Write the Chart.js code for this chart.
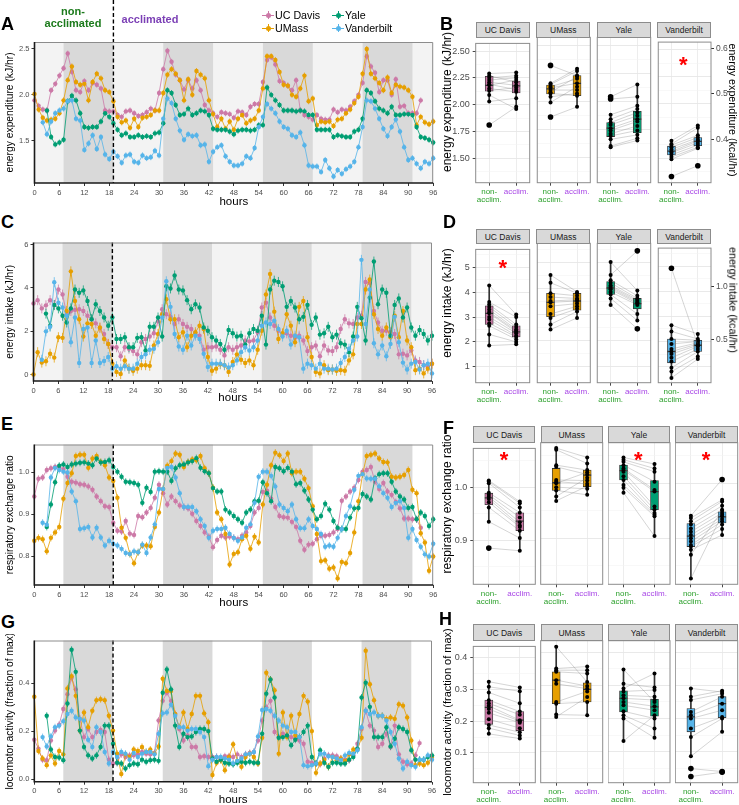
<!DOCTYPE html>
<html><head><meta charset="utf-8">
<script src="https://cdn.jsdelivr.net/npm/chart.js@4.4.1/dist/chart.umd.min.js"></script>
<style>
html,body{margin:0;padding:0;background:#fff;}
#root{position:relative;width:739px;height:805px;overflow:hidden;font-family:"Liberation Sans",Arial,Helvetica,sans-serif;}
canvas{position:absolute;}
.lbl{position:absolute;white-space:nowrap;line-height:1;}
.letter{font-weight:bold;font-size:18px;color:#000;}
.strip{position:absolute;background:#d9d9d9;border:1px solid #8c8c8c;box-sizing:border-box;font-size:8.5px;color:#1a1a1a;display:flex;align-items:center;justify-content:center;}
.star{position:absolute;color:#ff0000;font-weight:bold;font-size:22px;line-height:1;transform:translateX(-50%);}
.vtitle{position:absolute;white-space:nowrap;line-height:1;color:#000;}
</style></head><body><div id="root"></div>
<script>
// ---------- shared axis / design constants ----------
const hourTicks = [0,6,12,18,24,30,36,42,48,54,60,66,72,78,84,90,96];
const darkStarts = [7,31,55,79];
const darkLength = 12;
const acclimStartHour = 19;
const siteNames = ['UC Davis','UMass','Yale','Vanderbilt'];
const siteColors = ['#CC79A7','#E69F00','#009E73','#56B4E9'];
const siteStartHours = [0,0,3,2];
const conditionLabels = ['non-acclim.','acclim.'];
const kJperKcal = 4.184;

// ---------- A: energy expenditure (kJ/hr) ----------
const eeUCD = [1.94,1.88,1.84,1.83,2.05,2.12,2.21,2.29,2.45,2.25,2.05,2.03,2.15,2.05,2.13,2.11,2.07,1.83,1.82,1.82,1.78,1.76,1.82,1.83,1.80,1.77,1.78,1.81,1.85,1.83,2.02,2.28,2.48,2.36,2.22,2.16,2.06,2.16,2.07,2.16,2.05,1.89,1.83,1.80,1.76,1.81,1.80,1.79,1.75,1.82,1.81,1.78,1.87,1.90,1.90,2.14,2.38,2.41,2.33,2.15,2.13,2.10,2.05,2.16,1.83,1.78,1.76,1.73,1.78,1.74,1.73,1.73,1.84,1.81,1.84,1.83,1.87,1.93,2.00,2.13,2.42,2.31,2.24,2.03,2.16,2.16,2.00,2.17,1.87,1.88,1.80,1.80,1.80,1.94];
const eeUMass = [2.01,1.84,1.75,1.72,1.73,1.74,1.80,1.94,2.16,2.31,2.14,2.11,2.12,1.94,2.14,2.23,2.18,2.05,2.03,1.93,1.76,1.70,1.72,1.64,1.74,1.65,1.75,1.76,1.78,1.83,1.83,2.02,2.22,2.28,2.23,2.16,1.94,2.17,2.00,2.26,2.22,2.18,1.94,1.79,1.65,1.74,1.63,1.71,1.62,1.74,1.78,1.69,1.72,1.74,1.83,2.07,2.42,2.42,2.38,2.25,2.11,2.10,2.00,1.98,2.07,2.21,1.93,1.96,1.67,1.71,1.70,1.71,1.66,1.73,1.74,1.80,1.84,1.91,1.98,2.23,2.50,2.23,2.18,2.13,2.05,2.19,2.02,2.11,2.09,2.08,2.05,1.98,1.67,1.76,1.70,1.68,1.71];
const eeYale = [1.83,1.54,1.46,1.48,1.51,1.93,1.99,1.94,1.80,1.65,1.64,1.65,1.65,1.71,1.80,1.76,1.69,1.62,1.56,1.58,1.54,1.54,1.56,1.54,1.55,1.54,1.58,1.59,1.69,2.05,2.02,1.89,1.78,1.79,1.85,1.78,1.80,1.83,1.82,1.78,1.63,1.62,1.62,1.62,1.60,1.57,1.61,1.62,1.62,1.61,1.62,1.67,1.67,2.08,2.00,1.94,1.89,1.83,1.83,1.83,1.82,1.83,1.82,1.78,1.78,1.62,1.62,1.62,1.62,1.54,1.56,1.55,1.54,1.54,1.60,1.62,1.74,2.05,2.02,1.93,1.85,1.83,1.80,1.87,1.78,1.78,1.79,1.79,1.78,1.65,1.54,1.53,1.51,1.48];
const eeVandy = [1.70,1.57,1.71,1.80,1.83,1.85,1.93,1.94,1.74,1.72,1.40,1.47,1.56,1.41,1.54,1.35,1.30,1.38,1.33,1.26,1.34,1.35,1.27,1.26,1.34,1.31,1.32,1.39,1.34,1.74,1.96,1.91,1.74,1.61,1.51,1.57,1.55,1.56,1.45,1.46,1.27,1.38,1.43,1.45,1.33,1.27,1.23,1.23,1.25,1.33,1.31,1.42,1.65,1.76,1.90,1.85,1.80,1.71,1.65,1.63,1.56,1.54,1.59,1.45,1.23,1.22,1.22,1.16,1.29,1.20,1.11,1.18,1.14,1.19,1.22,1.27,1.43,1.65,1.94,1.93,1.85,1.74,1.63,1.55,1.65,1.73,1.60,1.43,1.29,1.31,1.25,1.20,1.27,1.25,1.31];

// ---------- C: energy intake (kJ/hr) ----------
const eiUCD = [3.28,3.43,3.05,3.19,3.43,3.20,3.92,3.69,2.78,2.93,2.98,3.01,2.93,2.71,2.55,2.36,2.14,1.87,1.41,1.26,1.26,0.84,1.26,1.19,1.08,0.93,1.49,1.64,1.75,1.90,2.45,3.01,2.78,2.66,2.33,2.55,2.33,2.20,2.10,1.87,1.79,1.14,1.26,1.26,1.29,1.14,0.88,1.26,1.14,1.26,1.34,1.57,1.53,1.57,1.95,3.09,3.31,2.63,2.25,2.02,1.87,1.90,1.79,1.69,1.79,1.57,1.08,1.26,1.34,0.84,1.34,1.11,1.08,1.26,2.10,2.55,2.36,2.33,2.63,2.71,4.27,4.22,2.93,2.40,2.02,2.02,1.95,1.87,0.93,0.96,0.88,1.11,0.65,0.58,0.43,0.35,0.50];
const eiUMass = [0.00,1.03,0.55,0.61,0.96,0.78,1.72,1.69,2.93,4.76,3.39,2.55,1.75,2.36,2.33,1.79,2.17,1.64,1.41,0.50,0.12,0.02,0.65,0.27,0.17,0.27,0.43,0.43,0.40,1.34,1.87,2.78,3.47,2.55,2.55,1.72,1.95,1.26,1.79,1.95,2.25,2.10,0.81,0.17,0.27,0.47,0.43,0.12,0.58,0.93,0.68,0.53,0.65,0.43,1.14,2.02,3.69,4.64,2.90,1.64,1.90,2.78,2.25,1.49,3.12,3.39,1.72,0.81,0.12,0.05,0.43,0.20,0.23,0.17,0.20,0.17,0.65,0.93,2.33,2.33,3.92,4.38,2.78,2.10,1.79,2.17,1.72,2.71,1.72,2.93,1.57,1.26,0.20,0.27,0.05,0.27,0.50];
const eiYale = [2.81,2.25,3.21,3.05,2.71,2.40,3.05,3.92,3.77,3.88,3.39,2.55,3.24,2.93,2.63,2.25,2.63,1.64,1.64,1.72,1.26,1.26,1.69,1.72,1.11,2.20,2.20,2.63,1.75,4.07,3.97,4.57,3.92,3.88,3.43,3.01,3.24,3.09,2.17,2.02,1.72,1.57,1.41,1.14,2.05,1.90,1.75,1.79,1.38,1.90,2.10,2.02,2.71,1.38,3.92,4.33,4.27,4.07,3.12,3.39,3.09,2.55,2.66,3.21,2.29,2.63,1.84,1.90,2.20,1.72,1.84,1.44,1.38,1.03,1.75,3.12,2.60,1.57,3.54,5.21,3.24,3.92,3.77,1.79,3.21,3.51,2.63,3.09,2.17,1.79,2.05,1.87,1.57,1.79];
const eiVandy = [0.68,1.99,2.20,4.26,3.31,3.09,2.71,1.49,2.63,0.53,2.10,2.17,0.53,1.57,0.53,0.62,0.81,0.27,0.38,0.27,0.38,0.27,0.27,0.50,0.81,0.93,1.14,1.19,1.49,2.63,4.30,3.12,1.87,1.29,1.14,1.79,1.34,1.79,1.64,0.96,0.35,0.50,0.50,0.50,0.43,0.32,0.43,0.65,1.03,1.26,1.11,1.26,1.57,2.25,2.40,2.33,2.48,2.10,1.75,2.02,1.38,1.79,1.72,0.27,0.50,0.43,0.27,0.50,0.27,0.27,0.23,0.27,0.53,0.81,1.19,1.57,1.75,5.29,2.33,3.92,1.44,0.93,1.34,0.84,1.41,2.66,1.49,0.55,0.23,0.50,0.58,0.23,0.43,0.50,0.05];

// ---------- E: respiratory exchange ratio ----------
const rerUCD = [0.942,0.984,0.987,1.005,1.009,1.012,1.012,1.007,0.989,0.977,0.975,0.971,0.970,0.966,0.958,0.942,0.931,0.919,0.917,0.880,0.861,0.859,0.884,0.854,0.851,0.896,0.893,0.904,0.915,0.939,0.970,0.950,0.923,0.942,0.931,0.921,0.917,0.914,0.901,0.884,0.872,0.857,0.847,0.822,0.839,0.849,0.845,0.847,0.844,0.841,0.849,0.857,0.872,0.904,0.915,0.953,0.956,0.937,0.917,0.896,0.893,0.892,0.882,0.870,0.837,0.816,0.828,0.830,0.841,0.849,0.849,0.851,0.857,0.865,0.932,0.942,0.954,0.963,0.981,1.001,1.005,1.012,0.977,0.960,0.974,0.954,0.946,0.929,0.914,0.890,0.890,0.888,0.888,0.868];
const rerUMass = [0.837,0.844,0.841,0.812,0.844,0.857,0.870,0.937,0.974,0.997,1.038,1.041,1.041,1.010,1.032,1.038,1.024,1.016,0.987,0.979,0.939,0.868,0.844,0.806,0.784,0.810,0.826,0.826,0.824,0.870,0.904,0.960,1.015,1.026,1.044,1.041,1.012,1.024,1.030,1.028,1.038,1.009,0.997,0.963,0.904,0.888,0.853,0.781,0.806,0.810,0.841,0.849,0.818,0.847,0.833,0.923,0.970,1.016,1.046,1.040,1.026,1.044,0.997,1.001,1.001,0.984,0.962,0.919,0.853,0.789,0.791,0.771,0.774,0.748,0.787,0.784,0.808,0.857,0.931,0.995,1.038,1.041,1.044,1.032,1.024,1.023,0.989,0.987,0.989,0.993,1.005,0.958,0.950,0.855,0.833,0.766,0.800];
const rerYale = [0.870,0.923,0.976,1.015,1.018,1.012,1.018,1.020,1.022,1.023,1.020,1.016,1.032,1.023,1.024,1.028,1.012,1.001,0.989,0.977,0.976,0.974,0.970,0.927,0.963,0.953,1.001,1.002,1.001,1.001,0.979,1.009,1.016,1.018,1.023,1.026,1.033,1.010,1.002,0.997,0.962,0.954,0.954,0.911,0.904,0.896,0.888,0.880,0.904,0.911,0.931,0.932,0.976,0.950,0.931,1.012,1.009,1.002,1.010,1.001,0.971,0.974,0.956,0.935,0.911,0.888,0.896,0.925,0.911,0.884,0.868,0.865,0.865,0.892,0.914,0.915,0.948,0.942,0.935,0.985,0.995,0.997,0.997,0.977,0.954,0.942,0.935,0.915,0.917,0.888,0.904,0.896,0.872,0.888];
const rerVandy = [0.880,0.875,0.987,1.010,1.005,1.001,0.999,0.954,0.931,0.865,0.867,0.870,0.845,0.868,0.845,0.826,0.837,0.830,0.826,0.818,0.808,0.806,0.812,0.810,0.828,0.808,0.845,0.876,0.960,0.960,1.010,1.012,0.987,0.950,0.917,0.917,0.917,0.907,0.888,0.872,0.844,0.861,0.865,0.865,0.868,0.853,0.844,0.837,0.845,0.868,0.876,0.927,0.989,1.001,1.001,0.991,0.966,0.923,0.915,0.907,0.923,0.888,0.867,0.867,0.888,0.872,0.865,0.853,0.823,0.826,0.823,0.844,0.865,0.896,0.919,0.958,0.991,0.995,0.985,0.984,0.984,0.966,0.950,0.939,0.917,0.927,0.931,0.915,0.844,0.865,0.839,0.823,0.805,0.800,0.830];

// ---------- G: locomotor activity (fraction of max) ----------
const locUCD = [0.165,0.128,0.082,0.080,0.162,0.203,0.228,0.293,0.355,0.423,0.375,0.252,0.176,0.210,0.176,0.197,0.206,0.197,0.082,0.066,0.069,0.104,0.093,0.100,0.100,0.104,0.114,0.107,0.104,0.110,0.245,0.327,0.361,0.327,0.272,0.210,0.162,0.183,0.135,0.135,0.093,0.096,0.093,0.093,0.093,0.082,0.096,0.096,0.093,0.104,0.093,0.104,0.110,0.114,0.162,0.245,0.300,0.327,0.197,0.176,0.190,0.183,0.176,0.169,0.162,0.148,0.073,0.069,0.066,0.063,0.087,0.100,0.100,0.096,0.087,0.082,0.080,0.100,0.148,0.210,0.286,0.224,0.203,0.135,0.148,0.190,0.135,0.224,0.104,0.073,0.063,0.066,0.100,0.151];
const locUMass = [0.344,0.118,0.087,0.059,0.100,0.066,0.118,0.104,0.379,0.430,0.348,0.203,0.279,0.217,0.286,0.330,0.334,0.330,0.265,0.203,0.107,0.022,0.104,0.093,0.124,0.118,0.135,0.114,0.124,0.107,0.137,0.419,0.368,0.368,0.272,0.217,0.279,0.210,0.272,0.348,0.348,0.275,0.238,0.018,0.069,0.080,0.038,0.093,0.146,0.077,0.052,0.093,0.107,0.093,0.066,0.173,0.444,0.416,0.371,0.107,0.279,0.176,0.265,0.183,0.272,0.348,0.324,0.201,0.027,0.066,0.082,0.052,0.093,0.080,0.087,0.077,0.104,0.124,0.124,0.173,0.536,0.396,0.330,0.265,0.265,0.252,0.258,0.252,0.313,0.307,0.258,0.162,0.059,0.066,0.059,0.069,0.093];
const locYale = [0.265,0.124,0.093,0.091,0.080,0.316,0.540,0.448,0.203,0.135,0.100,0.087,0.100,0.135,0.224,0.224,0.148,0.069,0.066,0.045,0.059,0.066,0.063,0.082,0.073,0.080,0.082,0.077,0.361,0.458,0.375,0.224,0.135,0.190,0.176,0.179,0.197,0.210,0.210,0.201,0.087,0.073,0.082,0.069,0.066,0.063,0.069,0.073,0.069,0.073,0.069,0.069,0.190,0.357,0.416,0.341,0.173,0.176,0.183,0.142,0.165,0.176,0.197,0.224,0.093,0.066,0.121,0.069,0.052,0.069,0.069,0.066,0.066,0.082,0.093,0.128,0.341,0.403,0.302,0.176,0.176,0.176,0.217,0.137,0.169,0.217,0.210,0.197,0.121,0.082,0.082,0.082,0.093,0.100];
const locVandy = [0.176,0.137,0.179,0.217,0.224,0.242,0.272,0.286,0.258,0.252,0.245,0.165,0.135,0.217,0.197,0.114,0.066,0.114,0.093,0.114,0.107,0.082,0.110,0.093,0.107,0.114,0.114,0.104,0.190,0.275,0.279,0.311,0.265,0.217,0.217,0.203,0.210,0.210,0.197,0.176,0.055,0.082,0.093,0.093,0.087,0.082,0.066,0.077,0.087,0.104,0.107,0.114,0.179,0.289,0.293,0.286,0.265,0.245,0.224,0.217,0.197,0.197,0.176,0.059,0.055,0.059,0.066,0.107,0.107,0.096,0.093,0.087,0.080,0.100,0.110,0.107,0.121,0.217,0.286,0.272,0.279,0.265,0.265,0.245,0.197,0.148,0.087,0.045,0.073,0.059,0.052,0.082,0.082,0.100,0.082];

// ---------- B: per-animal means, energy expenditure (kJ/hr); box = [whiskerLo, q1, median, q3, whiskerHi] ----------
const B_UCD_non = [2.29,2.27,2.25,2.23,2.21,2.19,2.18,2.15,2.13,2.09,2.03,1.81];
const B_UCD_acc = [2.30,2.21,2.27,2.25,2.18,2.14,2.23,2.12,2.16,1.96,2.06,1.98];
const B_UCD_box = [[2.03,2.125,2.18,2.265,2.29],[1.96,2.11,2.175,2.22,2.30]];
const B_UMass_non = [2.32,2.16,2.15,2.13,2.12,2.10,2.08,2.07,2.04,1.99,1.86];
const B_UMass_acc = [2.23,2.29,2.27,2.20,2.16,2.10,2.22,2.05,2.07,2.13,1.95];
const B_UMass_box = [[1.99,2.065,2.11,2.145,2.16],[1.95,2.05,2.16,2.23,2.29]];
const B_Yale_non = [2.04,2.02,1.88,1.84,1.81,1.79,1.76,1.74,1.71,1.69,1.66,1.60,1.59];
const B_Yale_acc = [2.15,2.04,1.96,1.93,1.90,1.87,1.84,1.82,1.78,1.74,1.70,1.67,1.65];
const B_Yale_box = [[1.59,1.685,1.76,1.81,1.88],[1.65,1.72,1.84,1.91,2.15]];
const B_Vandy_non = [1.66,1.63,1.62,1.60,1.58,1.56,1.55,1.53,1.51,1.49,1.33];
const B_Vandy_acc = [1.80,1.78,1.71,1.69,1.67,1.66,1.64,1.62,1.60,1.59,1.43];
const B_Vandy_box = [[1.49,1.53,1.565,1.61,1.66],[1.59,1.615,1.655,1.69,1.80]];

// ---------- D: energy intake (kJ/hr) ----------
const D_UCD_non = [4.27,3.6,3.5,3.4,3.3,3.2,3.15,3.0,2.9,2.75,2.65,2.3,1.85];
const D_UCD_acc = [3.1,3.0,2.7,2.6,2.5,2.45,2.4,2.35,2.25,2.2,2.1,2.0,1.9];
const D_UCD_box = [[1.85,2.7,3.15,3.45,4.27],[1.9,2.2,2.4,2.65,3.1]];
const D_UMass_non = [4.5,4.2,3.8,3.65,3.5,3.45,3.3,3.0,2.85,2.6,2.4];
const D_UMass_acc = [3.85,3.8,3.7,3.6,3.55,3.5,3.4,3.3,3.2,3.1,2.85];
const D_UMass_box = [[2.4,2.9,3.45,3.8,4.5],[2.85,3.15,3.5,3.8,3.85]];
const D_Yale_non = [5.0,4.5,4.3,4.2,4.1,4.05,4.0,3.95,3.85,3.75,3.6,3.35];
const D_Yale_acc = [3.9,5.43,3.7,3.6,3.55,3.5,3.45,3.4,3.35,3.0,2.75,2.43];
const D_Yale_box = [[3.35,3.75,4.0,4.25,5.0],[2.75,3.2,3.4,3.6,3.9]];
const D_Vandy_non = [4.92,2.65,2.4,2.1,1.9,1.7,1.6,1.5,1.35,1.2,0.95,0.8,0.55];
const D_Vandy_acc = [1.85,2.3,2.1,2.05,2.0,1.95,1.9,1.85,1.8,1.7,1.6,1.4,1.3];
const D_Vandy_box = [[0.55,1.15,1.6,2.1,2.65],[1.3,1.6,1.85,2.05,2.3]];

// ---------- F: respiratory exchange ratio ----------
const F_UCD_non = [1.013,1.011,1.008,0.99,0.986,0.982,0.978,0.972,0.962,0.935,0.885];
const F_UCD_acc = [0.973,0.970,0.962,0.952,0.943,0.934,0.928,0.925,0.918,0.904,0.88];
const F_UCD_box = [[0.935,0.967,0.98,0.989,1.013],[0.88,0.918,0.936,0.952,0.973]];
const F_UMass_non = [1.064,1.061,1.033,1.03,1.006,1.003,1.0,0.993,0.987,0.976,0.968];
const F_UMass_acc = [1.047,1.036,1.024,1.016,1.005,0.999,1.02,0.99,0.979,1.01,0.995];
const F_UMass_box = [[0.968,0.987,1.001,1.027,1.064],[0.979,0.994,1.015,1.024,1.047]];
const F_Yale_non = [1.047,1.043,1.039,1.033,1.027,1.024,1.021,1.013,1.006,0.997,0.992,0.983];
const F_Yale_acc = [1.035,1.027,1.021,1.003,0.988,0.985,0.958,0.952,0.946,0.943,0.94,0.904];
const F_Yale_box = [[0.983,1.006,1.023,1.033,1.047],[0.904,0.952,0.985,1.005,1.035]];
const F_Vandy_non = [0.941,0.937,0.931,0.925,0.918,0.912,0.906,0.9,0.894,0.888,0.885,0.879,0.87,0.827];
const F_Vandy_acc = [1.007,0.97,0.967,0.959,0.952,0.946,0.94,0.935,0.931,0.925,0.917,0.906,0.95,0.943];
const F_Vandy_box = [[0.827,0.885,0.904,0.927,0.941],[0.906,0.928,0.939,0.948,0.97]];

// ---------- H: locomotor activity (fraction of max) ----------
const H_UCD_non = [0.324,0.308,0.29,0.266,0.256,0.248,0.238,0.226,0.206,0.188,0.178,0.16];
const H_UCD_acc = [0.306,0.294,0.256,0.23,0.22,0.203,0.2,0.195,0.178,0.165,0.155,0.145];
const H_UCD_box = [[0.16,0.19,0.243,0.266,0.324],[0.145,0.17,0.203,0.23,0.306]];
const H_UMass_non = [0.417,0.351,0.346,0.341,0.316,0.305,0.25,0.245,0.212,0.205];
const H_UMass_acc = [0.31,0.357,0.346,0.336,0.298,0.29,0.282,0.25,0.21,0.265];
const H_UMass_box = [[0.205,0.245,0.316,0.341,0.417],[0.21,0.25,0.288,0.308,0.357]];
const H_Yale_non = [0.348,0.305,0.291,0.282,0.27,0.261,0.25,0.24,0.222,0.21,0.2,0.132];
const H_Yale_acc = [0.25,0.294,0.336,0.286,0.266,0.256,0.237,0.225,0.2,0.17,0.142,0.21];
const H_Yale_box = [[0.132,0.22,0.261,0.284,0.348],[0.142,0.207,0.235,0.258,0.336]];
const H_Vandy_non = [0.291,0.266,0.256,0.22,0.21,0.2,0.17,0.144,0.086,0.049,0.025];
const H_Vandy_acc = [0.28,0.284,0.275,0.266,0.245,0.225,0.205,0.2,0.16,0.04,0.038];
const H_Vandy_box = [[0.086,0.16,0.205,0.23,0.291],[0.16,0.203,0.245,0.266,0.284]];

// ---------- helpers ----------
Chart.defaults.font.family = '"Liberation Sans", Arial, Helvetica, sans-serif';
const root = document.getElementById('root');
function rgba(hex,a){const n=parseInt(hex.slice(1),16);return 'rgba('+(n>>16)+','+((n>>8)&255)+','+(n&255)+','+a+')';}
function mkCanvas(x,y,w,h){
  const c=document.createElement('canvas');
  c.width=w; c.height=h;
  Object.assign(c.style,{left:x+'px',top:y+'px',width:w+'px',height:h+'px'});
  root.appendChild(c); return c;
}
function addDiv(cls, text, style){
  const d=document.createElement('div'); d.className=cls; d.textContent=text;
  Object.assign(d.style, style); root.appendChild(d); return d;
}
function vTitle(text,cx,cy,size,deg){
  addDiv('vtitle',text,{left:cx+'px',top:cy+'px',fontSize:size+'px',transform:'translate(-50%,-50%) rotate('+deg+'deg)'});
}

// ---------- time-series panels ----------
function tsChart(o){
  const cb=o.cb, a=o.area;
  const cv=mkCanvas(cb.x,cb.y,cb.w,cb.h);
  const yW=a.L-cb.x, xH=cb.y+cb.h-a.B, padTop=a.T-cb.y, padRight=cb.x+cb.w-a.R;
  const hoursSize=11.5, yTitleSize=10.3;
  const titlePB=(cb.y+cb.h)-o.hoursY-hoursSize*1.2/2;
  const datasets=o.series.map((arr,i)=>({
    label:siteNames[i],
    data:arr.map((v,k)=>({x:siteStartHours[i]+k,y:v})),
    borderColor:rgba(siteColors[i],0.8), borderWidth:1,
    pointBackgroundColor:siteColors[i], pointBorderWidth:0, pointRadius:2.2,
    clip:false, order:3-i
  }));
  const deco={
    id:'deco',
    beforeDatasetsDraw(chart){
      const {ctx,chartArea:ca,scales:{x}}=chart;
      ctx.save();
      ctx.fillStyle=o.lightBg; ctx.fillRect(ca.left,ca.top,ca.right-ca.left,ca.bottom-ca.top);
      ctx.fillStyle='#d9d9d9';
      darkStarts.forEach(s=>{const x0=x.getPixelForValue(s),x1=x.getPixelForValue(Math.min(96,s+darkLength));ctx.fillRect(x0,ca.top,x1-x0,ca.bottom-ca.top);});
      chart.data.datasets.forEach((ds,i)=>{
        const meta=chart.getDatasetMeta(i);
        ctx.strokeStyle=rgba(siteColors[i],0.75); ctx.lineWidth=1;
        ctx.beginPath();
        meta.data.forEach(pt=>{ctx.moveTo(pt.x,pt.y-o.err);ctx.lineTo(pt.x,pt.y+o.err);});
        ctx.stroke();
      });
      ctx.restore();
    },
    afterDatasetsDraw(chart){
      const {ctx,chartArea:ca,scales:{x}}=chart;
      ctx.save();
      const xd=x.getPixelForValue(acclimStartHour);
      ctx.strokeStyle='#000'; ctx.lineWidth=1.4; ctx.setLineDash([4,2.5]);
      ctx.beginPath(); ctx.moveTo(xd,o.dashTop!=null?o.dashTop:ca.top); ctx.lineTo(xd,ca.bottom); ctx.stroke();
      ctx.setLineDash([]);
      ctx.strokeStyle='#8c8c8c'; ctx.lineWidth=1;
      ctx.beginPath(); ctx.moveTo(ca.left,ca.top+0.5); ctx.lineTo(ca.right-0.5,ca.top+0.5); ctx.lineTo(ca.right-0.5,ca.bottom); ctx.stroke();
      ctx.strokeStyle='#1a1a1a'; ctx.lineWidth=1.6;
      ctx.beginPath(); ctx.moveTo(ca.left,ca.top); ctx.lineTo(ca.left,ca.bottom); ctx.lineTo(ca.right,ca.bottom); ctx.stroke();
      ctx.restore();
    }
  };
  new Chart(cv,{type:'line',data:{datasets},options:{
    responsive:false, animation:false,
    layout:{autoPadding:false,padding:{top:padTop,right:padRight,left:0,bottom:0}},
    plugins:{legend:{display:false},tooltip:{enabled:false}},
    scales:{
      x:{type:'linear',min:0,max:96,
        afterBuildTicks:ax=>{ax.ticks=hourTicks.map(v=>({value:v}));},
        afterFit:s=>{s.height=xH;},
        ticks:{color:'#4d4d4d',font:{size:7.5},padding:2,maxRotation:0,autoSkip:false},
        grid:{display:true,drawOnChartArea:false,drawTicks:true,tickLength:3,tickColor:'#333',color:'#333'},
        border:{display:false},
        title:{display:true,text:'hours',color:'#000',font:{size:hoursSize},padding:{top:0,bottom:titlePB}}},
      y:{type:'linear',min:o.yMin,max:o.yMax,
        afterBuildTicks:ax=>{ax.ticks=o.yTicks.map(v=>({value:v}));},
        afterFit:s=>{s.width=yW;},
        ticks:{color:'#4d4d4d',font:{size:7.5},padding:2,callback:v=>o.yFmt(v)},
        grid:{display:true,drawOnChartArea:false,drawTicks:true,tickLength:3,tickColor:'#333',color:'#333'},
        border:{display:false},
        title:{display:true,text:o.yTitle,color:'#000',font:{size:yTitleSize},padding:{top:o.yTitleX-yTitleSize*1.2/2,bottom:0}}}
    }},plugins:[deco]});
}

tsChart({cb:{x:0,y:0,w:440,h:210},area:{L:34.5,T:42,R:433.2,B:183},hoursY:201.5,
  yMin:1.039,yMax:2.576,yTicks:[1.5,2.0,2.5],yFmt:v=>v.toFixed(1),yTitle:'energy expenditure (kJ/hr)',yTitleX:10,
  series:[eeUCD,eeUMass,eeYale,eeVandy],lightBg:'#f3f3f3',err:3,dashTop:0});
tsChart({cb:{x:0,y:236,w:440,h:168},area:{L:33.5,T:240.7,R:432,B:381},hoursY:397.5,
  yMin:-0.3,yMax:6.09,yTicks:[0,2,4,6],yFmt:v=>String(v),yTitle:'energy intake (kJ/hr)',yTitleX:10,
  series:[eiUCD,eiUMass,eiYale,eiVandy],lightBg:'#f3f3f3',err:5});
tsChart({cb:{x:0,y:438,w:440,h:170},area:{L:34.3,T:442.3,R:433.2,B:585},hoursY:603,
  yMin:0.7323,yMax:1.0653,yTicks:[0.8,0.9,1.0],yFmt:v=>v.toFixed(1),yTitle:'respiratory exchange ratio',yTitleX:10,
  series:[rerUCD,rerUMass,rerYale,rerVandy],lightBg:'#ffffff',err:3.5});
tsChart({cb:{x:0,y:634,w:440,h:171},area:{L:34.3,T:639,R:432,B:781.7},hoursY:799.5,
  yMin:-0.0099,yMax:0.5786,yTicks:[0.0,0.2,0.4],yFmt:v=>v.toFixed(1),yTitle:'locomotor activity (fraction of max)',yTitleX:10,
  series:[locUCD,locUMass,locYale,locVandy],lightBg:'#ffffff',err:3.5});

// ---------- faceted paired box plots ----------
const nonColor='#2ca02c', accColor='#a846e6';
const facetXnarrow=[[475.7,529.7],[536.3,590.3],[596.7,650.7],[657,711]];
const facetXwide=[[473.3,535.3],[540.7,602.7],[608,670],[675.3,737.7]];

function facetChart(p,site){
  const L=p.fx[site][0], R=p.fx[site][1];
  const first=site===0, hasRight=site===3&&!!p.right;
  const cx0=first?436:Math.floor(L);
  const cx1=hasRight?728:Math.min(739,Math.ceil(R+1));
  const cy0=Math.floor(p.T-2), cy1=Math.ceil(p.B+26);
  const cv=mkCanvas(cx0,cy0,cx1-cx0,cy1-cy0);
  const yW=first?L-cx0:0, padLeft=first?0:L-cx0;
  const padRight=hasRight?0:cx1-R, rW=hasRight?cx1-R:0;
  const padTop=p.T-cy0, xH=cy1-p.B;
  const non=p.non[site], acc=p.acc[site], box=p.box[site], col=siteColors[site];
  const out=[];
  non.forEach(v=>{if(v<box[0][0]-1e-9||v>box[0][4]+1e-9)out.push({x:conditionLabels[0],y:v});});
  acc.forEach(v=>{if(v<box[1][0]-1e-9||v>box[1][4]+1e-9)out.push({x:conditionLabels[1],y:v});});
  const datasets=[
    {type:'bar',data:[[box[0][0],box[0][4]],[box[1][0],box[1][4]]],backgroundColor:'#333',barThickness:1,grouped:false,order:6},
    {type:'bar',data:[[box[0][1],box[0][3]],[box[1][1],box[1][3]]],backgroundColor:col,borderColor:'#333',borderWidth:0.8,borderSkipped:false,barThickness:8,grouped:false,order:5},
    {type:'line',data:[box[0][2],box[1][2]],showLine:false,pointStyle:'line',pointRadius:4,pointBorderColor:'#333',pointBorderWidth:1.3,order:4}
  ];
  non.forEach((v,i)=>datasets.push({type:'line',data:[v,acc[i]],borderColor:'rgba(120,120,120,0.45)',borderWidth:0.7,pointRadius:2,pointBackgroundColor:'#000',pointBorderWidth:0,order:3}));
  datasets.push({type:'line',data:out,showLine:false,pointRadius:2.8,pointBackgroundColor:'#000',pointBorderWidth:0,order:1});
  const frame={id:'frame',afterDraw(chart){
    const {ctx,chartArea:ca}=chart; ctx.save(); ctx.strokeStyle='#8c8c8c'; ctx.lineWidth=1;
    ctx.strokeRect(ca.left,ca.top,ca.right-ca.left,ca.bottom-ca.top); ctx.restore();}};
  const scales={
    x:{type:'category',labels:conditionLabels,offset:true,
      afterFit:s=>{s.height=xH;},
      ticks:{color:c=>c.index===0?nonColor:accColor,font:{size:8,lineHeight:1},padding:2,maxRotation:0,autoSkip:false,
        callback:(v,i)=>i===0?['non-','acclim.']:'acclim.'},
      grid:{offset:false,color:'#ebebeb',lineWidth:0.9,drawTicks:true,tickLength:3,tickColor:'#333'},
      border:{display:false}},
    y:{type:'linear',min:p.yMin,max:p.yMax,
      afterBuildTicks:ax=>{ax.ticks=p.majors.map(v=>({value:v,lab:true})).concat(p.minors.map(v=>({value:v,lab:false}))).sort((a,b)=>a.value-b.value);},
      afterFit:s=>{s.width=yW;},
      ticks:{display:first,color:'#4d4d4d',font:{size:9},padding:3,callback:(v,i,t)=>(t[i]&&t[i].lab)?p.fmt(v):''},
      grid:{color:c=>(c.tick&&c.tick.lab)?'#e6e6e6':'#f4f4f4',lineWidth:c=>(c.tick&&c.tick.lab)?0.9:0.6,
        drawTicks:first,tickLength:3,tickColor:c=>(c.tick&&c.tick.lab)?'#333':'rgba(0,0,0,0)'},
      border:{display:false},
      title:{display:false}}
  };
  if(hasRight){
    scales.y2={type:'linear',position:'right',min:p.yMin/kJperKcal,max:p.yMax/kJperKcal,
      afterBuildTicks:ax=>{ax.ticks=p.right.ticks.map(v=>({value:v}));},
      afterFit:s=>{s.width=rW;},
      ticks:{color:'#4d4d4d',font:{size:8.5},padding:2,callback:v=>v.toFixed(1)},
      grid:{drawOnChartArea:false,drawTicks:true,tickLength:3,tickColor:'#333'},
      border:{display:false},
      title:{display:false}};
  }
  new Chart(cv,{type:'bar',data:{labels:conditionLabels,datasets},options:{
    responsive:false,animation:false,
    layout:{autoPadding:false,padding:{top:padTop,left:padLeft,right:padRight,bottom:0}},
    plugins:{legend:{display:false},tooltip:{enabled:false}},
    scales},plugins:[frame]});
  addDiv('strip',siteNames[site],{left:L+'px',top:p.stripTop+'px',width:(R-L)+'px',height:(p.T-p.stripTop+0.5)+'px'});
}

const panels=[
  {fx:facetXnarrow,T:37.3,B:182.7,stripTop:21.7,yMin:1.273,yMax:2.571,majors:[1.5,1.75,2.0,2.25,2.5],minors:[1.375,1.625,1.875,2.125,2.375],
   fmt:v=>v.toFixed(2),yTitle:'energy expenditure (kJ/hr)',titleY:102,titleSize:12,right:{title:'energy expenditure (kcal/hr)',ticks:[0.4,0.5,0.6],titleY:110},
   non:[B_UCD_non,B_UMass_non,B_Yale_non,B_Vandy_non],acc:[B_UCD_acc,B_UMass_acc,B_Yale_acc,B_Vandy_acc],box:[B_UCD_box,B_UMass_box,B_Yale_box,B_Vandy_box]},
  {fx:facetXnarrow,T:243.3,B:382.7,stripTop:229.3,yMin:0.358,yMax:5.72,majors:[1,2,3,4,5],minors:[1.5,2.5,3.5,4.5,5.5],
   fmt:v=>String(v),yTitle:'energy intake (kJ/hr)',titleY:303,titleSize:12,right:{title:'energy intake (kcal/hr)',ticks:[0.5,1.0],titleY:300},
   non:[D_UCD_non,D_UMass_non,D_Yale_non,D_Vandy_non],acc:[D_UCD_acc,D_UMass_acc,D_Yale_acc,D_Vandy_acc],box:[D_UCD_box,D_UMass_box,D_Yale_box,D_Vandy_box]},
  {fx:facetXwide,T:442.7,B:584.3,stripTop:426,yMin:0.8164,yMax:1.0738,majors:[0.9,1.0],minors:[0.85,0.95,1.05],
   fmt:v=>v.toFixed(1),yTitle:'respiratory exchange ratio',titleY:504,titleSize:12,right:null,
   non:[F_UCD_non,F_UMass_non,F_Yale_non,F_Vandy_non],acc:[F_UCD_acc,F_UMass_acc,F_Yale_acc,F_Vandy_acc],box:[F_UCD_box,F_UMass_box,F_Yale_box,F_Vandy_box]},
  {fx:facetXwide,T:640.7,B:782.7,stripTop:624.3,yMin:0.0064,yMax:0.435,majors:[0.1,0.2,0.3,0.4],minors:[0.05,0.15,0.25,0.35],
   fmt:v=>v.toFixed(1),yTitle:'locomotor activity (fraction of max)',titleY:712,titleSize:11,right:null,
   non:[H_UCD_non,H_UMass_non,H_Yale_non,H_Vandy_non],acc:[H_UCD_acc,H_UMass_acc,H_Yale_acc,H_Vandy_acc],box:[H_UCD_box,H_UMass_box,H_Yale_box,H_Vandy_box]}
];
panels.forEach(p=>{
  for(let s=0;s<4;s++)facetChart(p,s);
  vTitle(p.yTitle,447,p.titleY,p.titleSize,-90);
  if(p.right) vTitle(p.right.title,733,p.right.titleY,10.7,90);
});

// ---------- text annotations ----------
[['A',1,14.6],['B',440,15],['C',1,212.6],['D',443,212.6],['E',1,414.6],['F',443,419],['G',1,612.6],['H',439,610]]
  .forEach(([t,x,y])=>addDiv('lbl letter',t,{left:x+'px',top:y+'px'}));

addDiv('lbl','non-',{left:'23px',top:'5.5px',width:'100px',textAlign:'center',fontWeight:'bold',fontSize:'11px',color:'#1b7a1b'});
addDiv('lbl','acclimated',{left:'23px',top:'18px',width:'100px',textAlign:'center',fontWeight:'bold',fontSize:'11px',color:'#1b7a1b'});
addDiv('lbl','acclimated',{left:'100px',top:'14px',width:'100px',textAlign:'center',fontWeight:'bold',fontSize:'11px',color:'#7b3fb5'});

// legend
[[0,262,15],[1,262,28.3],[2,332,15],[3,332,28.3]].forEach(([i,x,y])=>{
  const box=document.createElement('div');
  Object.assign(box.style,{position:'absolute',left:x+'px',top:(y-6)+'px',width:'12px',height:'12px'});
  const ln=document.createElement('div'); Object.assign(ln.style,{position:'absolute',left:'0',top:'5.5px',width:'12px',height:'1px',background:siteColors[i]});
  const eb=document.createElement('div'); Object.assign(eb.style,{position:'absolute',left:'5.5px',top:'2px',width:'1px',height:'8px',background:siteColors[i]});
  const dt=document.createElement('div'); Object.assign(dt.style,{position:'absolute',left:'3.5px',top:'3.5px',width:'5px',height:'5px',borderRadius:'50%',background:siteColors[i]});
  box.appendChild(ln); box.appendChild(eb); box.appendChild(dt); root.appendChild(box);
  addDiv('lbl',siteNames[i],{left:(x+13)+'px',top:(y-5.5)+'px',fontSize:'10.7px',color:'#000'});
});

// significance stars
[[683.3,60],[502.7,263.3],[504,455],[638.3,455],[706,455]].forEach(([x,y])=>addDiv('star','*',{left:x+'px',top:(y-5.9)+'px'}));
</script></body></html>
